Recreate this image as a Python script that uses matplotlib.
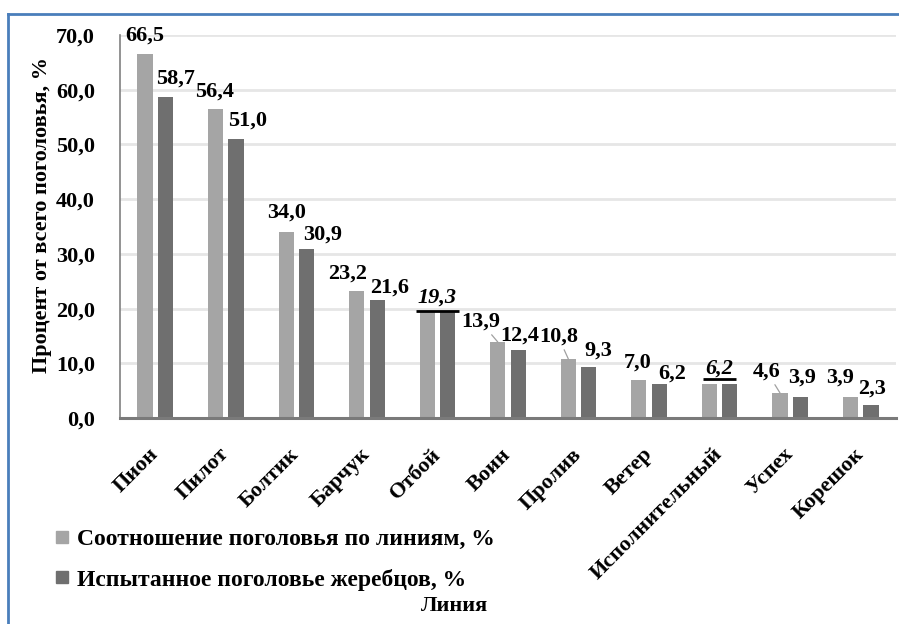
import matplotlib
matplotlib.use("Agg")
import matplotlib.pyplot as plt
import numpy as np
from matplotlib.lines import Line2D

# data
lines = ["Пион", "Пилот", "Болтик", "Барчук", "Отбой", "Воин", "Пролив",
         "Ветер", "Исполнительный", "Успех", "Корешок"]
share_all = [66.5, 56.4, 34.0, 23.2, 19.3, 13.9, 10.8, 7.0, 6.2, 4.6, 3.9]
share_tested = [58.7, 51.0, 30.9, 21.6, 19.3, 12.4, 9.3, 6.2, 6.2, 3.9, 2.3]
series_names = ["Соотношение поголовья по линиям, %",
                "Испытанное поголовье жеребцов, %"]

# label placement (pixel offsets from bar top), as in the original layout
light_off = [(0, 19), (-1, 18), (0, 19), (-9, 18), None, (-17, 20), (-10, 22),
             (-1, 17), None, (-13, 21), (-10, 19)]
dark_off = [(10, 18), (11, 18), (16, 14), (12, 12), None, (1, 15), (10, 17),
            (13, 11), None, (2, 19), (1, 17)]
leader = [5, 6, 9]          # light labels with a leader line
merged = {4: (15, 1.5, 0.31), 8: (16, 5, 0.23)}  # idx: (dy, underline dy, half-width)

FONT = 'Liberation Serif'
FS = 16
tx = dict(family=FONT, weight='bold', size=FS)

c_light = '#a5a5a5'
c_dark = '#6f6f6f'

fig = plt.figure(figsize=(8.99, 6.24), dpi=100)
ax = fig.add_axes([0.1335, 0.330, 0.8632, 0.614])

x = np.arange(len(lines))
w = 0.215
d = 0.145
ax.bar(x - d, share_all, w, color=c_light, label=series_names[0], zorder=3)
ax.bar(x + d, share_tested, w, color=c_dark, label=series_names[1], zorder=3)

ax.set_xlim(-0.5, len(lines) - 0.5)
ax.set_ylim(0, 70)
ax.set_yticks(np.arange(0, 71, 10))
ax.set_yticklabels([f"{v:.1f}".replace('.', ',') for v in np.arange(0, 71, 10)], **tx)
ax.grid(axis='y', color='#e6e6e6', linewidth=2, zorder=0)
ax.tick_params(axis='y', length=0, pad=18)
ax.tick_params(axis='x', length=0, pad=24)
ax.set_xticks(x)
ax.set_xticklabels(lines, rotation=45, ha='right', va='center',
                   rotation_mode='anchor', **tx)

for s in ['top', 'right']:
    ax.spines[s].set_visible(False)
ax.spines['left'].set_color('#808080')
ax.spines['left'].set_linewidth(1.2)
ax.spines['bottom'].set_color('#7a7a7a')
ax.spines['bottom'].set_linewidth(2.2)
ax.spines['bottom'].set_zorder(4)

fmt = lambda v: f"{v:.1f}".replace('.', ',')
px_per_unit = ax.bbox.height / 70

for i in range(len(lines)):
    if i in merged:
        dy, udy, hw = merged[i]
        ax.annotate(fmt(share_all[i]), (x[i], share_all[i]), xytext=(0, dy),
                    textcoords='offset pixels', ha='center', va='center',
                    style='italic', zorder=5, **tx)
        yl = share_all[i] + udy / px_per_unit
        ax.hlines(yl, x[i] - hw, x[i] + hw, color='black', linewidth=2, zorder=5)
        continue
    ap = None
    if i in leader:
        ap = dict(arrowstyle='-', color='#a0a0a0', lw=0.9, shrinkA=0, shrinkB=0)
    ax.annotate(fmt(share_all[i]), (x[i] - d, share_all[i]), xytext=light_off[i],
                textcoords='offset pixels', ha='center', va='center',
                arrowprops=ap, zorder=5, **tx)
    ax.annotate(fmt(share_tested[i]), (x[i] + d, share_tested[i]), xytext=dark_off[i],
                textcoords='offset pixels', ha='center', va='center',
                zorder=5, **tx)

fig.text(0.047, 0.655, "Процент от всего поголовья, %", rotation=90,
         ha='center', va='center', **tx)
fig.text(0.506, 0.029, "Линия", ha='center', va='center', **tx)

handles = [Line2D([], [], marker='s', linestyle='', markersize=8, color=c)
           for c in (c_light, c_dark)]
fig.legend(handles, series_names, loc='upper left', bbox_to_anchor=(0.051, 0.168),
           frameon=False, prop=dict(family=FONT, weight='bold', size=FS + 1),
           handlelength=0.6, handletextpad=0.3, labelspacing=0.78, borderaxespad=0)

# blue frame of the pasted picture
fig.add_artist(Line2D([0.009, 1.0], [0.978, 0.978], color='#4a7ebb', lw=2,
                      transform=fig.transFigure))
fig.add_artist(Line2D([0.009, 0.009], [0.0, 0.978], color='#4a7ebb', lw=2,
                      transform=fig.transFigure))

fig.savefig("out.png", dpi=100)
